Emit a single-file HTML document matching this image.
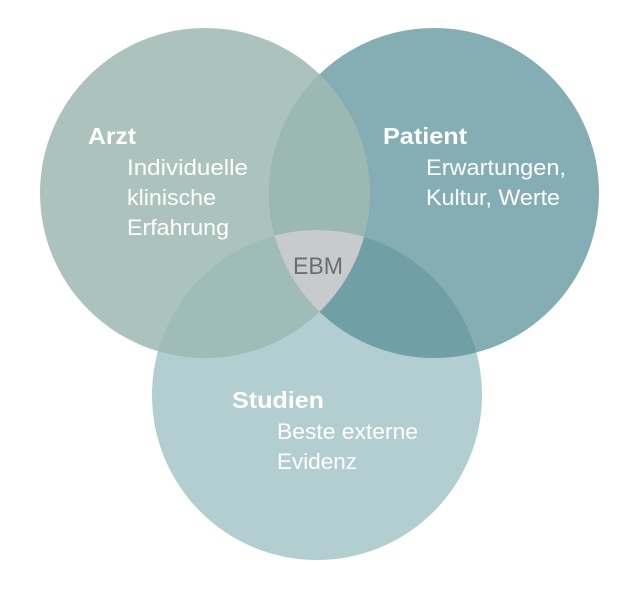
<!DOCTYPE html>
<html><head><meta charset="utf-8"><style>
html,body{margin:0;padding:0;background:#fff;width:641px;height:591px;overflow:hidden}
text{font-family:"Liberation Sans",sans-serif;fill:#fff}
</style></head><body>
<svg width="641" height="591" viewBox="0 0 641 591">
<defs>
<clipPath id="a"><circle cx="205" cy="193" r="165"/></clipPath>
<clipPath id="p"><circle cx="434" cy="193" r="165"/></clipPath>
<clipPath id="s"><circle cx="317" cy="395" r="165"/></clipPath>
</defs>
<circle cx="205" cy="193" r="165" fill="#abc3bc"/>
<circle cx="434" cy="193" r="165" fill="#84aeb3"/>
<circle cx="317" cy="395" r="165" fill="#b2ced1"/>
<g clip-path="url(#a)"><circle cx="434" cy="193" r="165" fill="#9bb8b3"/></g>
<g clip-path="url(#a)"><circle cx="317" cy="395" r="165" fill="#9fbcb8"/></g>
<g clip-path="url(#p)"><circle cx="317" cy="395" r="165" fill="#70a0a5"/></g>
<g clip-path="url(#a)"><g clip-path="url(#p)"><circle cx="317" cy="395" r="165" fill="#c8cbcc"/></g></g>
<text x="88" y="144" font-size="23" font-weight="bold" textLength="48" lengthAdjust="spacingAndGlyphs">Arzt</text>
<text x="127" y="175" font-size="22" textLength="121" lengthAdjust="spacingAndGlyphs">Individuelle</text>
<text x="127" y="205" font-size="22" textLength="89" lengthAdjust="spacingAndGlyphs">klinische</text>
<text x="127" y="235" font-size="22" textLength="102" lengthAdjust="spacingAndGlyphs">Erfahrung</text>
<text x="383" y="144" font-size="23" font-weight="bold" textLength="84" lengthAdjust="spacingAndGlyphs">Patient</text>
<text x="426" y="175" font-size="22" textLength="140" lengthAdjust="spacingAndGlyphs">Erwartungen,</text>
<text x="426" y="205" font-size="22" textLength="134" lengthAdjust="spacingAndGlyphs">Kultur, Werte</text>
<text x="232" y="408" font-size="23" font-weight="bold" textLength="92" lengthAdjust="spacingAndGlyphs">Studien</text>
<text x="277" y="439" font-size="22" textLength="141" lengthAdjust="spacingAndGlyphs">Beste externe</text>
<text x="277" y="469" font-size="22" textLength="80" lengthAdjust="spacingAndGlyphs">Evidenz</text>
<text x="293" y="274" font-size="24" textLength="50" lengthAdjust="spacingAndGlyphs" style="fill:#6b6e70">EBM</text>
</svg>
</body></html>
